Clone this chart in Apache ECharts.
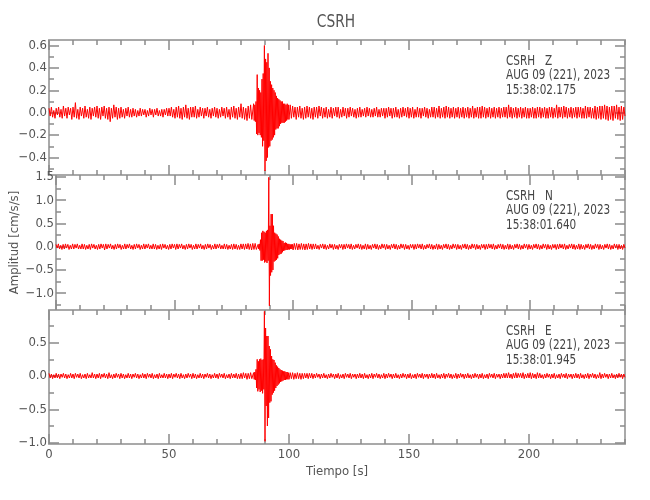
<!DOCTYPE html>
<html>
<head>
<meta charset="utf-8">
<script src="https://cdn.jsdelivr.net/npm/echarts@6/dist/echarts.min.js"></script>
<style>
  html, body { margin: 0; padding: 0; background: #fff; }
  #chart { width: 650px; height: 500px; }
</style>
</head>
<body>
<div id="chart"></div>
<script>
// trace samples: pre = 0..84.5 s (0.5 s), event = 85..99.75 s (0.25 s), post = 100..240 s (0.5 s)
var zPre = [
  0.04,-0.03,0.05,-0.04,0.02,-0.05,0.04,-0.02,0.05,-0.04,0.03,-0.05,0.06,-0.03,0.04,-0.05,0.05,-0.02,0.04,-0.06,
  0.05,-0.04,0.09,-0.05,0.03,-0.06,0.05,-0.03,0.04,-0.05,0.06,-0.04,0.03,-0.05,0.05,-0.06,0.04,-0.03,0.05,-0.04,
  0.06,-0.05,0.04,-0.06,0.05,-0.03,0.06,-0.05,0.04,-0.06,0.05,-0.08,0.04,-0.05,0.07,-0.04,0.05,-0.06,0.04,-0.05,
  0.05,-0.04,0.03,-0.05,0.04,-0.03,0.05,-0.04,0.03,-0.04,0.04,-0.03,0.03,-0.04,0.02,-0.03,0.04,-0.03,0.03,-0.02,
  0.03,-0.04,0.02,-0.03,0.04,-0.02,0.03,-0.04,0.03,-0.02,0.04,-0.03,0.02,-0.03,0.03,-0.04,0.03,-0.02,0.04,-0.03,
  0.04,-0.03,0.05,-0.04,0.03,-0.05,0.05,-0.04,0.06,-0.05,0.04,-0.06,0.05,-0.04,0.07,-0.05,0.04,-0.06,0.05,-0.04,
  0.05,-0.04,0.06,-0.05,0.03,-0.04,0.05,-0.03,0.04,-0.05,0.04,-0.03,0.05,-0.04,0.03,-0.05,0.04,-0.03,0.05,-0.04,
  0.04,-0.05,0.03,-0.04,0.05,-0.03,0.04,-0.05,0.05,-0.04,0.03,-0.06,0.05,-0.04,0.06,-0.05,0.04,-0.06,0.05,-0.04,
  0.08,-0.05,0.05,-0.06,0.04,-0.07,0.06,-0.05,0.07,-0.06
];
var zEvent = [
  -0.06,0.08,-0.07,0.07, -0.08,0.10,-0.19,0.34, -0.20,0.22,-0.18,0.20,
  -0.20,0.18,-0.22,0.30, -0.30,0.35,-0.25,0.60, -0.52,0.48,-0.43,0.45,
  -0.40,0.53,-0.31,0.40, -0.30,0.28,-0.25,0.25, -0.24,0.22,-0.22,0.20,
  -0.20,0.18,-0.15,0.15, -0.14,0.13,-0.14,0.12, -0.12,0.11,-0.10,0.10,
  -0.09,0.10,-0.09,0.08, -0.09,0.08,-0.08,0.07, -0.07,0.08,-0.06,0.07
];
var zPost = [
  -0.06,0.07,-0.05,0.06,-0.04,0.05,-0.06,0.05,-0.04,0.06,-0.05,0.04,-0.06,0.05,-0.05,0.06,-0.04,0.05,-0.05,0.04,
  -0.06,0.05,-0.04,0.05,-0.05,0.06,-0.03,0.05,-0.05,0.04,-0.04,0.05,-0.05,0.03,-0.04,0.05,-0.05,0.04,-0.03,0.05,
  -0.04,0.05,-0.05,0.03,-0.04,0.05,-0.03,0.04,-0.05,0.04,-0.04,0.05,-0.03,0.04,-0.04,0.03,-0.05,0.04,-0.04,0.05,
  -0.04,0.03,-0.03,0.04,-0.04,0.05,-0.03,0.04,-0.04,0.03,-0.04,0.04,-0.03,0.05,-0.04,0.03,-0.04,0.04,-0.03,0.04,
  -0.05,0.04,-0.04,0.05,-0.03,0.04,-0.05,0.04,-0.04,0.05,-0.04,0.03,-0.05,0.04,-0.04,0.05,-0.03,0.04,-0.04,0.05,
  -0.05,0.04,-0.04,0.05,-0.05,0.03,-0.04,0.05,-0.04,0.04,-0.05,0.04,-0.03,0.05,-0.04,0.04,-0.05,0.03,-0.04,0.05,
  -0.04,0.05,-0.05,0.04,-0.04,0.06,-0.05,0.04,-0.04,0.05,-0.05,0.06,-0.04,0.05,-0.05,0.04,-0.04,0.05,-0.05,0.04,
  -0.04,0.05,-0.05,0.04,-0.04,0.05,-0.05,0.04,-0.04,0.05,-0.05,0.04,-0.04,0.06,-0.05,0.04,-0.04,0.05,-0.05,0.05,
  -0.05,0.06,-0.04,0.05,-0.05,0.04,-0.04,0.05,-0.05,0.04,-0.04,0.05,-0.05,0.04,-0.04,0.05,-0.05,0.04,-0.04,0.05,
  -0.04,0.05,-0.05,0.07,-0.04,0.05,-0.05,0.04,-0.04,0.05,-0.05,0.04,-0.04,0.05,-0.05,0.04,-0.04,0.05,-0.05,0.04,
  -0.05,0.04,-0.04,0.05,-0.05,0.04,-0.05,0.05,-0.04,0.05,-0.05,0.04,-0.04,0.05,-0.05,0.04,-0.05,0.05,-0.04,0.05,
  -0.05,0.04,-0.04,0.07,-0.05,0.05,-0.04,0.05,-0.05,0.06,-0.04,0.05,-0.05,0.04,-0.04,0.05,-0.05,0.04,-0.04,0.05,
  -0.05,0.05,-0.04,0.05,-0.05,0.04,-0.05,0.06,-0.05,0.05,-0.04,0.05,-0.05,0.04,-0.05,0.06,-0.06,0.05,-0.05,0.06,
  -0.06,0.06,-0.05,0.07,-0.06,0.06,-0.07,0.05,-0.06,0.06,-0.07,0.06,-0.05,0.07,-0.06,0.05,-0.07,0.06,-0.06,0.05,
  -0.03
];

var nPre = [
  0.05,-0.03,0.06,-0.05,0.03,-0.06,0.05,-0.05,0.06,-0.03,0.05,-0.06,0.03,-0.05,0.06,-0.05,0.05,-0.03,0.06,-0.05,
  0.03,-0.05,0.06,-0.05,0.05,-0.06,0.03,-0.05,0.05,-0.06,0.06,-0.03,0.05,-0.05,0.03,-0.06,0.05,-0.05,0.06,-0.03,
  0.05,-0.07,0.06,-0.05,0.05,-0.03,0.06,-0.05,0.03,-0.06,0.05,-0.05,0.06,-0.03,0.05,-0.06,0.03,-0.05,0.06,-0.05,
  0.05,-0.03,0.06,-0.05,0.03,-0.06,0.05,-0.05,0.06,-0.03,0.05,-0.06,0.03,-0.05,0.06,-0.05,0.05,-0.03,0.06,-0.05,
  0.03,-0.05,0.06,-0.05,0.05,-0.06,0.03,-0.05,0.05,-0.06,0.06,-0.03,0.05,-0.05,0.03,-0.06,0.05,-0.05,0.06,-0.03,
  0.05,-0.06,0.06,-0.05,0.05,-0.03,0.06,-0.05,0.03,-0.06,0.05,-0.05,0.06,-0.03,0.05,-0.06,0.03,-0.05,0.06,-0.05,
  0.05,-0.03,0.06,-0.05,0.03,-0.06,0.05,-0.05,0.06,-0.03,0.05,-0.06,0.03,-0.05,0.06,-0.05,0.05,-0.03,0.06,-0.05,
  0.03,-0.05,0.06,-0.05,0.05,-0.06,0.03,-0.05,0.05,-0.06,0.06,-0.05,0.05,-0.06,0.03,-0.06,0.06,-0.05,0.06,-0.06,
  0.06,-0.05,0.07,-0.06,0.06,-0.07,0.07,-0.06,0.07,-0.06
];
var nEvent = [
  -0.05,0.05,-0.05,0.06, -0.08,0.15,-0.30,0.30, -0.30,0.34,-0.28,0.32,
  -0.34,0.30,-0.32,0.34, -0.35,0.36,-0.30,1.49, -1.27,0.45,-0.62,0.70,
  -0.55,0.70,-0.50,0.45, -0.32,0.30,-0.30,0.28, -0.28,0.26,-0.25,0.22,
  -0.18,0.17,-0.16,0.15, -0.15,0.13,-0.12,0.12, -0.09,0.08,-0.08,0.09,
  -0.07,0.08,-0.07,0.06, -0.06,0.06,-0.06,0.05, -0.05,0.05,-0.05,0.05
];
var nPost = [
  -0.07,0.07,-0.06,0.07,-0.07,0.06,-0.06,0.07,-0.06,0.06,-0.07,0.06,-0.06,0.07,-0.05,0.06,-0.06,0.06,-0.05,0.06,
  -0.05,0.03,-0.06,0.05,-0.03,0.06,-0.05,0.05,-0.06,0.03,-0.05,0.06,-0.03,0.05,-0.06,0.05,-0.05,0.03,-0.06,0.05,
  -0.03,0.05,-0.06,0.05,-0.05,0.06,-0.03,0.05,-0.05,0.06,-0.06,0.03,-0.05,0.05,-0.03,0.06,-0.05,0.05,-0.06,0.03,
  -0.05,0.06,-0.06,0.05,-0.05,0.03,-0.06,0.05,-0.03,0.06,-0.05,0.05,-0.06,0.03,-0.05,0.06,-0.03,0.05,-0.06,0.05,
  -0.05,0.03,-0.06,0.05,-0.03,0.06,-0.05,0.05,-0.06,0.03,-0.05,0.06,-0.03,0.05,-0.06,0.05,-0.05,0.03,-0.06,0.05,
  -0.03,0.05,-0.06,0.05,-0.05,0.06,-0.03,0.05,-0.05,0.06,-0.06,0.03,-0.05,0.05,-0.03,0.06,-0.05,0.05,-0.06,0.03,
  -0.05,0.06,-0.06,0.05,-0.05,0.03,-0.06,0.05,-0.03,0.06,-0.05,0.05,-0.06,0.03,-0.05,0.06,-0.03,0.05,-0.06,0.05,
  -0.05,0.03,-0.06,0.05,-0.03,0.06,-0.05,0.05,-0.06,0.03,-0.05,0.06,-0.03,0.05,-0.06,0.05,-0.05,0.03,-0.06,0.05,
  -0.03,0.05,-0.06,0.05,-0.05,0.06,-0.03,0.05,-0.05,0.06,-0.06,0.03,-0.05,0.05,-0.03,0.06,-0.05,0.05,-0.06,0.03,
  -0.05,0.06,-0.06,0.05,-0.05,0.03,-0.06,0.05,-0.03,0.06,-0.05,0.05,-0.06,0.03,-0.05,0.06,-0.03,0.05,-0.06,0.05,
  -0.05,0.03,-0.06,0.05,-0.03,0.06,-0.05,0.05,-0.06,0.03,-0.05,0.06,-0.03,0.05,-0.06,0.05,-0.05,0.03,-0.06,0.05,
  -0.03,0.05,-0.06,0.05,-0.05,0.06,-0.03,0.05,-0.05,0.06,-0.06,0.03,-0.05,0.05,-0.03,0.06,-0.05,0.05,-0.06,0.03,
  -0.05,0.06,-0.06,0.05,-0.05,0.03,-0.06,0.05,-0.03,0.06,-0.05,0.05,-0.06,0.03,-0.05,0.06,-0.03,0.05,-0.06,0.05,
  -0.05,0.03,-0.06,0.05,-0.03,0.06,-0.05,0.05,-0.06,0.03,-0.05,0.06,-0.03,0.05,-0.06,0.05,-0.05,0.03,-0.06,0.05,
  -0.03
];

var ePre = [
  0.04,-0.03,0.03,-0.04,0.02,-0.03,0.04,-0.03,0.03,-0.04,0.03,-0.02,0.04,-0.03,0.03,-0.04,0.02,-0.03,0.04,-0.03,
  0.03,-0.04,0.04,-0.02,0.03,-0.03,0.04,-0.04,0.02,-0.03,0.03,-0.04,0.04,-0.03,0.02,-0.03,0.05,-0.03,0.03,-0.04,
  0.03,-0.03,0.04,-0.04,0.03,-0.02,0.04,-0.03,0.03,-0.04,0.05,-0.03,0.02,-0.04,0.03,-0.03,0.04,-0.02,0.03,-0.04,
  0.04,-0.03,0.03,-0.04,0.02,-0.03,0.04,-0.03,0.03,-0.04,0.03,-0.02,0.04,-0.03,0.03,-0.04,0.02,-0.03,0.04,-0.03,
  0.03,-0.04,0.04,-0.02,0.03,-0.03,0.04,-0.04,0.02,-0.03,0.03,-0.04,0.04,-0.03,0.02,-0.03,0.04,-0.03,0.03,-0.04,
  0.03,-0.03,0.04,-0.04,0.03,-0.02,0.04,-0.03,0.03,-0.04,0.04,-0.03,0.02,-0.04,0.03,-0.03,0.04,-0.02,0.03,-0.04,
  0.04,-0.03,0.03,-0.04,0.02,-0.03,0.04,-0.03,0.03,-0.04,0.03,-0.02,0.04,-0.03,0.03,-0.04,0.02,-0.03,0.04,-0.03,
  0.03,-0.04,0.04,-0.02,0.03,-0.03,0.04,-0.04,0.02,-0.03,0.03,-0.04,0.04,-0.03,0.03,-0.03,0.04,-0.04,0.03,-0.04,
  0.04,-0.04,0.05,-0.03,0.04,-0.05,0.04,-0.04,0.05,-0.04
];
var eEvent = [
  -0.04,0.05,-0.05,0.06, -0.06,0.10,-0.18,0.25, -0.23,0.22,-0.20,0.25,
  -0.24,0.26,-0.22,0.24, -0.26,0.25,-0.20,0.97, -0.98,0.72,-0.45,0.60,
  -0.75,0.60,-0.63,0.45, -0.40,0.40,-0.38,0.30, -0.28,0.25,-0.25,0.24,
  -0.22,0.20,-0.18,0.16, -0.15,0.14,-0.13,0.12, -0.11,0.10,-0.09,0.09,
  -0.08,0.08,-0.07,0.07, -0.06,0.07,-0.06,0.06, -0.05,0.06,-0.05,0.05
];
var ePost = [
  -0.05,0.05,-0.04,0.05,-0.05,0.04,-0.04,0.05,-0.04,0.04,-0.05,0.04,-0.04,0.04,-0.03,0.04,-0.04,0.04,-0.03,0.04,
  -0.04,0.03,-0.03,0.04,-0.02,0.03,-0.04,0.03,-0.03,0.04,-0.03,0.02,-0.04,0.03,-0.03,0.04,-0.02,0.03,-0.04,0.03,
  -0.03,0.04,-0.04,0.02,-0.03,0.03,-0.04,0.04,-0.02,0.03,-0.03,0.04,-0.04,0.03,-0.02,0.03,-0.04,0.03,-0.03,0.04,
  -0.03,0.03,-0.04,0.04,-0.03,0.02,-0.04,0.03,-0.03,0.04,-0.04,0.03,-0.02,0.04,-0.03,0.03,-0.04,0.02,-0.03,0.04,
  -0.04,0.03,-0.03,0.04,-0.02,0.03,-0.04,0.03,-0.03,0.04,-0.03,0.02,-0.04,0.03,-0.03,0.04,-0.02,0.03,-0.04,0.03,
  -0.03,0.04,-0.04,0.02,-0.03,0.03,-0.04,0.04,-0.02,0.03,-0.03,0.04,-0.04,0.03,-0.02,0.03,-0.04,0.03,-0.03,0.04,
  -0.03,0.03,-0.04,0.04,-0.03,0.02,-0.04,0.03,-0.03,0.04,-0.04,0.03,-0.02,0.04,-0.03,0.03,-0.04,0.02,-0.03,0.04,
  -0.04,0.03,-0.03,0.04,-0.02,0.03,-0.04,0.03,-0.03,0.04,-0.03,0.02,-0.04,0.03,-0.03,0.04,-0.02,0.03,-0.04,0.03,
  -0.03,0.04,-0.04,0.02,-0.03,0.03,-0.04,0.04,-0.02,0.03,-0.03,0.04,-0.04,0.03,-0.02,0.03,-0.04,0.03,-0.03,0.04,
  -0.03,0.04,-0.03,0.05,-0.03,0.03,-0.04,0.04,-0.03,0.05,-0.03,0.04,-0.02,0.04,-0.03,0.05,-0.04,0.03,-0.03,0.04,
  -0.03,0.05,-0.04,0.04,-0.03,0.03,-0.04,0.05,-0.03,0.04,-0.03,0.02,-0.04,0.03,-0.03,0.04,-0.02,0.03,-0.04,0.03,
  -0.03,0.04,-0.04,0.02,-0.03,0.03,-0.04,0.04,-0.02,0.03,-0.03,0.04,-0.04,0.03,-0.02,0.03,-0.04,0.03,-0.03,0.04,
  -0.03,0.03,-0.04,0.04,-0.03,0.02,-0.04,0.03,-0.03,0.04,-0.04,0.03,-0.02,0.04,-0.03,0.03,-0.04,0.02,-0.03,0.05,
  -0.04,0.03,-0.03,0.04,-0.02,0.03,-0.04,0.03,-0.03,0.04,-0.03,0.02,-0.04,0.03,-0.03,0.04,-0.02,0.03,-0.04,0.03,
  -0.02
];

var xMajor = [0, 50, 100, 150, 200];
var xMinor = [0,10,20,30,40,50,60,70,80,90,100,110,120,130,140,150,160,170,180,190,200,210,220,230,240];

var panels = [
  { name: 'Z', time: '15:38:02.175', pre: zPre, ev: zEvent, post: zPost,
    min: -0.556, max: 0.649,
    labels: [-0.4, -0.2, 0, 0.2, 0.4, 0.6],
    minor: [-0.5, -0.4, -0.3, -0.2, -0.1, 0, 0.1, 0.2, 0.3, 0.4, 0.5, 0.6] },
  { name: 'N', time: '15:38:01.640', pre: nPre, ev: nEvent, post: nPost,
    min: -1.36, max: 1.54,
    labels: [-1, -0.5, 0, 0.5, 1, 1.5],
    minor: [-1.25, -1, -0.75, -0.5, -0.25, 0, 0.25, 0.5, 0.75, 1, 1.25, 1.5] },
  { name: 'E', time: '15:38:01.945', pre: ePre, ev: eEvent, post: ePost,
    min: -1.02, max: 0.99,
    labels: [-1, -0.5, 0, 0.5],
    minor: [-1, -0.75, -0.5, -0.25, 0, 0.25, 0.5, 0.75] }
];
var gridTops = [40, 175, 310];
var gridHeights = [135, 135, 134];

var FONT = "'DejaVu Sans Condensed','DejaVu Sans',sans-serif";
var LINE = { color: '#a9a9a9', width: 2 };
var TICK = { color: '#8a8a8a', width: 1.5 };

function buildTrace(p) {
  var pts = [];
  p.pre.forEach(function (v, i) { pts.push([i * 0.5, v]); });
  p.ev.forEach(function (v, i) { pts.push([85 + i * 0.25, v]); });
  p.post.forEach(function (v, i) { pts.push([100 + i * 0.5, v]); });
  return pts;
}

var grids = [], xAxes = [], yAxes = [], series = [];
var graphics = [{
  type: 'text', x: 336, y: 13, scaleX: 0.85,
  style: { text: 'CSRH', fill: '#555', font: '18px ' + FONT, textAlign: 'center', textVerticalAlign: 'top' }
}];

panels.forEach(function (p, g) {
  grids.push({ left: 49, right: 25, top: gridTops[g], height: gridHeights[g] });
  var last = g === panels.length - 1;

  ['bottom', 'top'].forEach(function (pos) {
    xAxes.push({
      gridIndex: g, type: 'value', min: 0, max: 240, position: pos,
      axisLine: { show: true, onZero: false, lineStyle: LINE },
      axisTick: { show: true, inside: true, length: 5, customValues: xMinor, lineStyle: TICK },
      axisLabel: {
        show: last && pos === 'bottom', customValues: xMajor, margin: 4,
        color: '#555', fontSize: 13, fontFamily: FONT
      },
      splitLine: { show: false },
      name: (last && pos === 'bottom') ? 'Tiempo [s]' : '',
      nameLocation: 'middle', nameGap: 21,
      nameTextStyle: { color: '#555', fontSize: 13, fontFamily: FONT }
    });
    xAxes.push({
      gridIndex: g, type: 'value', min: 0, max: 240, position: pos,
      axisLine: { show: false, onZero: false },
      axisTick: { show: true, inside: true, length: 10, customValues: xMajor, lineStyle: TICK },
      axisLabel: { show: false }, splitLine: { show: false }
    });
  });

  ['left', 'right'].forEach(function (pos) {
    yAxes.push({
      gridIndex: g, type: 'value', min: p.min, max: p.max, position: pos,
      axisLine: { show: true, onZero: false, lineStyle: LINE },
      axisTick: { show: true, inside: true, length: 5, customValues: p.minor, lineStyle: TICK },
      axisLabel: { show: false }, splitLine: { show: false },
      name: (g === 1 && pos === 'left') ? 'Amplitud [cm/s/s]' : '',
      nameLocation: 'middle', nameGap: 35, nameRotate: 90,
      nameTextStyle: { color: '#555', fontSize: 13, fontFamily: FONT }
    });
    yAxes.push({
      gridIndex: g, type: 'value', min: p.min, max: p.max, position: pos,
      axisLine: { show: false, onZero: false },
      axisTick: { show: true, inside: true, length: 10, customValues: p.labels, lineStyle: TICK },
      axisLabel: {
        show: pos === 'left', customValues: p.labels, margin: 2,
        color: '#555', fontSize: 13, fontFamily: FONT,
        formatter: function (v) { return (v < 0 ? '\u2212' : '') + Math.abs(v).toFixed(1); }
      },
      splitLine: { show: false }
    });
  });

  series.push({
    type: 'line', xAxisIndex: g * 4, yAxisIndex: g * 4,
    data: buildTrace(p), showSymbol: false, symbol: 'none',
    sampling: false, animation: false, silent: true,
    lineStyle: { color: '#ff0000', width: 1 }
  });

  graphics.push({
    type: 'text', x: 506, y: gridTops[g] + 14, scaleX: 0.83,
    style: {
      text: 'CSRH   ' + p.name + '\nAUG 09 (221), 2023\n' + p.time,
      fill: '#444', font: '14px ' + FONT, lineHeight: 14.5, textVerticalAlign: 'top'
    }
  });
});

var chart = echarts.init(document.getElementById('chart'));
chart.setOption({
  backgroundColor: '#fff',
  animation: false,
  grid: grids,
  xAxis: xAxes,
  yAxis: yAxes,
  series: series,
  graphic: graphics
});
</script>
</body>
</html>
